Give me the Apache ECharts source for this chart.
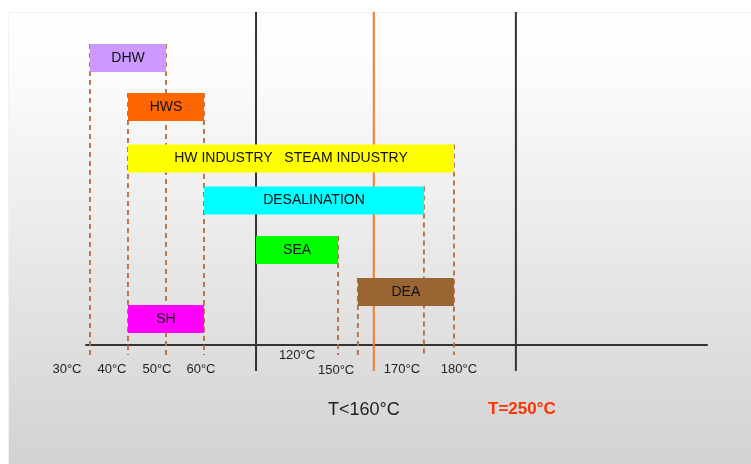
<!DOCTYPE html>
<html>
<head>
<meta charset="utf-8">
<script src="https://cdn.jsdelivr.net/npm/echarts@6/dist/echarts.min.js"></script>
<style>
  html, body { margin: 0; padding: 0; background: #fff; }
  #chart { width: 751px; height: 464px; }
</style>
</head>
<body>
<div id="chart"></div>
<script>
// temperature ranges of each application (°C)
const barNames = ['DHW', 'HWS', 'HW INDUSTRY   STEAM INDUSTRY', 'DESALINATION', 'SEA', 'DEA', 'SH'];
const barStart = [30, 40, 40, 60, 120, 155, 40];
const barEnd = [50, 60, 180, 170, 150, 180, 60];
const barRow = [28.7, 23.8, 18.65, 14.45, 9.5, 5.3, 2.6]; // row level on the y axis
const barColors = ['#cc99ff', '#ff6600', '#ffff00', '#00ffff', '#00ff00', '#996633', '#ff00ff'];

// axis ticks
const tickTemps = [30, 40, 50, 60, 120, 150, 170, 180];
const tickLabels = ['30°C', '40°C', '50°C', '60°C', '120°C', '150°C', '170°C', '180°C'];

// dashed guides: temperature + the bar they drop from
const guideTemps = [30, 50, 40, 60, 150, 155, 170, 180];
const guideFromBar = [0, 0, 1, 1, 4, 5, 3, 2];

// solid limit lines
const limitTemps = [120, 160, 250];
const limitColors = ['#333333', '#ff7722', '#333333'];

// the schematic axis is not linear: position of each temperature along it
const tempAxisPos = {
  30: 0, 40: 1, 50: 2, 60: 3, 120: 4.37, 150: 6.53, 155: 7.05,
  160: 7.47, 170: 8.79, 180: 9.58, 250: 11.21
};

// layout nudges for tick labels, px [dx, dy]
const tickLabelNudge = [[-23, 24], [-16, 24], [-9, 24], [-3, 24], [41, 10], [-2, 25], [-22, 24], [5, 24]];

const chart = echarts.init(document.getElementById('chart'));
const HALF = 1.4;

chart.setOption({
  backgroundColor: '#ffffff',
  animation: false,
  graphic: [
    {
      type: 'rect', left: 8, top: 12, z: -10,
      shape: { width: 743, height: 452 },
      style: {
        fill: new echarts.graphic.LinearGradient(0, 0, 0, 1, [
          { offset: 0, color: '#ffffff' },
          { offset: 0.15, color: '#fbfbfb' },
          { offset: 1, color: '#d2d2d2' }
        ]),
        stroke: '#f2f2f2', lineWidth: 1
      }
    },
    {
      type: 'text', left: 328, top: 401, z: 10,
      style: { text: 'T<160°C', fill: '#222', font: '18px "Liberation Sans", Arial, sans-serif' }
    },
    {
      type: 'text', left: 488, top: 401, z: 10,
      style: { text: 'T=250°C', fill: '#ff3300', font: 'bold 17px "Liberation Sans", Arial, sans-serif' }
    }
  ],
  grid: { left: 86, right: 44, top: 12, bottom: 119 },
  xAxis: {
    type: 'value', min: -0.105, max: 16.24,
    axisLine: { show: true, lineStyle: { color: '#333', width: 2 } },
    axisTick: { show: false }, axisLabel: { show: false }, splitLine: { show: false }
  },
  yAxis: { type: 'value', min: 0, max: 33.3, show: false },
  series: [
    {
      // dashed guide lines
      type: 'custom', z: 1,
      data: guideTemps.map((t, i) => [tempAxisPos[t], barRow[guideFromBar[i]] + HALF]),
      renderItem(params, api) {
        const a = api.coord([api.value(0), api.value(1)]);
        const b = api.coord([api.value(0), -1.0]);
        return {
          type: 'line',
          shape: { x1: a[0], y1: a[1], x2: b[0], y2: b[1] },
          style: { stroke: '#b8693f', lineWidth: 1.8, lineDash: [5, 4] }
        };
      }
    },
    {
      // solid limit lines
      type: 'custom', z: 1,
      data: limitTemps.map(t => [tempAxisPos[t]]),
      renderItem(params, api) {
        const a = api.coord([api.value(0), 33.3]);
        const b = api.coord([api.value(0), -2.6]);
        return {
          type: 'line',
          shape: { x1: a[0], y1: a[1], x2: b[0], y2: b[1] },
          style: { stroke: limitColors[params.dataIndex], lineWidth: 2 }
        };
      }
    },
    {
      // application bars
      type: 'custom', z: 3,
      data: barNames.map((n, i) => [tempAxisPos[barStart[i]], tempAxisPos[barEnd[i]], barRow[i]]),
      encode: { x: [0, 1], y: 2 },
      renderItem(params, api) {
        const s = api.coord([api.value(0), api.value(2) + HALF]);
        const e = api.coord([api.value(1), api.value(2) - HALF]);
        return {
          type: 'rect',
          shape: { x: s[0], y: s[1], width: e[0] - s[0], height: e[1] - s[1] },
          style: { fill: barColors[params.dataIndex] },
          textContent: {
            style: {
              text: barNames[params.dataIndex], fill: '#111',
              font: '14px "Liberation Sans", Arial, sans-serif'
            }
          },
          textConfig: { position: 'inside' }
        };
      }
    },
    {
      // tick labels
      type: 'custom', z: 4,
      data: tickTemps.map(t => [tempAxisPos[t], 0]),
      renderItem(params, api) {
        const p = api.coord([api.value(0), 0]);
        const n = tickLabelNudge[params.dataIndex];
        return {
          type: 'text',
          x: p[0] + n[0], y: p[1] + n[1],
          style: {
            text: tickLabels[params.dataIndex], fill: '#222',
            font: '13px "Liberation Sans", Arial, sans-serif',
            align: 'center', verticalAlign: 'middle'
          }
        };
      }
    }
  ]
});
</script>
</body>
</html>
